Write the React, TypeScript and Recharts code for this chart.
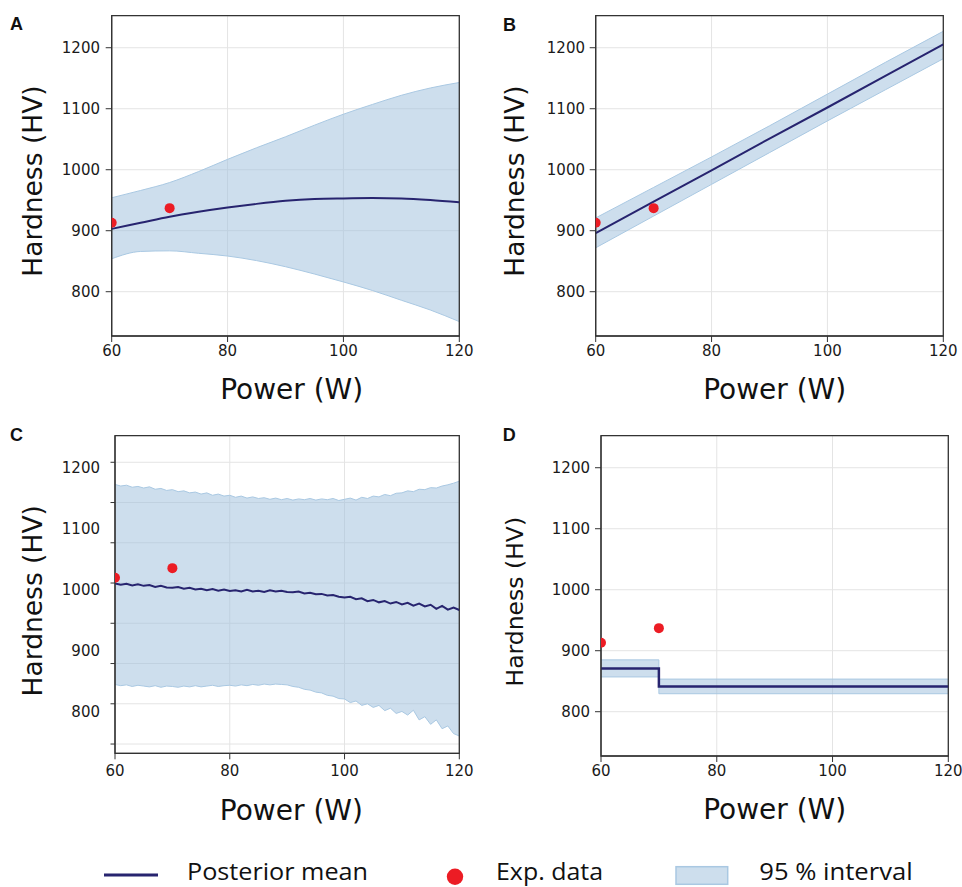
import React from 'react';
import {
  ComposedChart,
  Area,
  Line,
  Scatter,
  XAxis,
  YAxis,
  CartesianGrid,
  ReferenceArea } from
'recharts';

const FONT = '"DejaVu Sans", Verdana, sans-serif';
const NAVY = '#27246f';
const RED = '#ec1c24';
const BAND_FILL = '#9fc0dd';
const BAND_EDGE = '#a9c8e2';
const GRID = '#e4e4e4';
const SPINE = '#333333';

const xTicks = [60, 80, 100, 120];
const hvTicks = [800, 900, 1000, 1100, 1200];
const cGridTicks = [500, 600, 700, 800, 900, 1000, 1100, 1200];

// experimental points (same in every panel)
const EXP_POWER = [60, 70];
const EXP_HARDNESS = [913, 937];

// A: smooth GP-like fit
const A_POWER = [60, 65, 70, 75, 80, 85, 90, 95, 100, 105, 110, 115, 120];
const A_MEAN = [903, 913, 923, 931, 938, 944, 949, 952, 953, 953.5, 953, 950.5, 946.5];
const A_UPPER = [954, 966, 979, 997, 1017, 1036, 1054, 1073, 1091, 1107, 1122, 1134, 1143];
const A_LOWER = [854, 866, 867, 863, 858.5, 851, 841, 829, 816, 802, 786, 770, 751];

// B: linear fit
const B_POWER = [60, 70, 80, 90, 100, 110, 120];
const B_MEAN = [896, 947.5, 999, 1051, 1102, 1154, 1205.5];
const B_UPPER = [921, 971, 1021, 1072, 1124, 1176, 1227];
const B_LOWER = [872, 924, 976, 1028, 1080, 1131, 1182];

// C: noisy sampled posterior
const C_POWER = [
60, 61, 62, 63, 64, 65, 66, 67, 68, 69, 70, 71, 72, 73, 74, 75, 76, 77, 78, 79,
80, 81, 82, 83, 84, 85, 86, 87, 88, 89, 90, 91, 92, 93, 94, 95, 96, 97, 98, 99,
100, 101, 102, 103, 104, 105, 106, 107, 108, 109, 110, 111, 112, 113, 114, 115, 116, 117, 118, 119, 120];
const C_MEAN = [
899, 896, 898, 894, 897, 893, 895, 890, 893, 889, 888, 890, 886, 888, 884, 886, 882, 885, 881, 884,
880, 882, 879, 883, 879, 881, 878, 882, 879, 881, 878, 877, 879, 874, 876, 872, 873, 869, 870, 866,
864, 866, 860, 862, 855, 858, 852, 855, 849, 853, 847, 851, 844, 849, 842, 846, 836, 843, 834, 839, 833];
const C_UPPER = [
1145, 1141, 1143, 1138, 1140, 1136, 1139, 1133, 1135, 1130, 1132, 1127, 1129, 1124, 1126, 1121, 1124, 1118, 1121, 1116,
1118, 1113, 1116, 1111, 1114, 1110, 1112, 1108, 1111, 1107, 1110, 1106, 1109, 1107, 1110, 1106, 1109, 1107, 1110, 1105,
1108, 1111, 1106, 1113, 1110, 1116, 1114, 1120, 1117, 1123, 1124, 1129, 1127, 1133, 1132, 1137, 1136, 1141, 1144, 1148, 1153];
const C_LOWER = [
648, 645, 647, 643, 646, 644, 642, 645, 641, 644, 643, 641, 644, 642, 645, 642, 644, 646, 643, 645,
646, 644, 647, 645, 648, 646, 649, 647, 649, 648, 647, 643, 641, 636, 634, 629, 627, 621, 619, 613,
612, 603, 607, 596, 600, 591, 596, 583, 589, 576, 581, 572, 584, 560, 568, 549, 560, 538, 545, 526, 520];

// D: step model
const D_POWER = [60, 70, 120];
const D_MEAN = [871, 841.5, 841.5];
const D_UPPER = [885, 853.5, 853.5];
const D_LOWER = [857, 829.5, 829.5];

const rowsOf = (power: number[], mean: number[], lower: number[], upper: number[]) =>
power.map((p, i) => ({ power: p, mean: mean[i], band: [lower[i], upper[i]] }));

const expRows = EXP_POWER.map((p, i) => ({ power: p, hardness: EXP_HARDNESS[i] }));

const AxisTitle = ({ tx, ty, size, vertical, title }: any) =>
<text
  x={tx}
  y={ty}
  fontSize={size}
  fontFamily={FONT}
  fill="#111"
  textAnchor="middle"
  transform={vertical ? `rotate(-90 ${tx} ${ty})` : undefined}>
    {title}
  </text>;


const tickStyle = { fontSize: 15, fontFamily: FONT, fill: '#1a1a1a' };
const noLabel = () => <g />;

function Panel(props: any) {
  const {
    x, y, w, h, rows, curve, meanWidth,
    plotLeft, plotRight, plotTop, plotBottom,
    yDomain, gridTicks, yTickMargin, xTickMargin,
    yTitle, xTitle, labelAxis
  } = props;
  const hvWidth = labelAxis ? plotLeft - labelAxis.width : plotLeft;
  return (
    <div style={{ position: 'absolute', left: x, top: y }}>
      <ComposedChart
        width={w}
        height={h}
        data={rows}
        margin={{ top: plotTop, right: w - plotRight, bottom: 0, left: 0 }}>
        
        <CartesianGrid stroke={GRID} />
        <XAxis
          dataKey="power"
          type="number"
          domain={[60, 120]}
          ticks={xTicks}
          allowDataOverflow
          height={h - plotBottom}
          tickSize={6}
          tickMargin={xTickMargin}
          tick={tickStyle}
          stroke={SPINE}
          label={<AxisTitle tx={xTitle.x} ty={xTitle.y} size={28} title="Power (W)" />} />
        
        <YAxis
          type="number"
          domain={yDomain}
          ticks={gridTicks}
          allowDataOverflow
          width={hvWidth}
          tickSize={labelAxis ? 4.5 : 6}
          tickMargin={yTickMargin}
          tick={labelAxis ? noLabel : tickStyle}
          stroke={SPINE}
          label={
          <AxisTitle tx={yTitle.x} ty={yTitle.y} size={yTitle.size} vertical title="Hardness (HV)" />
          } />
        
        {labelAxis &&
        <YAxis
          yAxisId="lab"
          type="number"
          domain={labelAxis.domain}
          ticks={hvTicks}
          allowDataOverflow
          width={labelAxis.width}
          tickSize={0}
          tickMargin={5}
          tickLine={false}
          axisLine={false}
          tick={tickStyle} />
        }
        <Area
          dataKey="band"
          type={curve}
          fill={BAND_FILL}
          fillOpacity={0.52}
          stroke={BAND_EDGE}
          strokeWidth={1}
          dot={false}
          activeDot={false}
          isAnimationActive={false} />
        
        <Line
          dataKey="mean"
          type={curve}
          stroke={NAVY}
          strokeWidth={meanWidth}
          dot={false}
          activeDot={false}
          isAnimationActive={false} />
        
        <Scatter
          data={expRows}
          dataKey="hardness"
          fill={RED}
          shape={(p: any) => <circle cx={p.cx} cy={p.cy} r={5} fill={RED} />}
          isAnimationActive={false} />
        
        <ReferenceArea
          x1={60}
          x2={120}
          y1={yDomain[0]}
          y2={yDomain[1]}
          fill="none"
          stroke={SPINE}
          strokeWidth={1.3} />
        
      </ComposedChart>
    </div>);

}

const HV_DOMAIN = [727.4, 1252.5];

export default function App() {
  return (
    <div style={{ position: 'absolute', left: 0, top: 0, width: 962, height: 887, background: '#fff', fontFamily: FONT }}>
      <Panel
        x={0} y={0} w={480} h={420}
        rows={rowsOf(A_POWER, A_MEAN, A_LOWER, A_UPPER)}
        curve="monotone" meanWidth={2}
        plotLeft={111.7} plotRight={459.3} plotTop={15.7} plotBottom={336}
        yDomain={HV_DOMAIN} gridTicks={hvTicks} yTickMargin={5.7} xTickMargin={3.5}
        yTitle={{ x: 41.5, y: 181, size: 26.5 }} xTitle={{ x: 291.7, y: 399 }} />
      
      <Panel
        x={480} y={0} w={482} h={420}
        rows={rowsOf(B_POWER, B_MEAN, B_LOWER, B_UPPER)}
        curve="linear" meanWidth={2}
        plotLeft={115.7} plotRight={463.3} plotTop={15.7} plotBottom={336}
        yDomain={HV_DOMAIN} gridTicks={hvTicks} yTickMargin={4.7} xTickMargin={3.5}
        yTitle={{ x: 44.3, y: 181, size: 26.5 }} xTitle={{ x: 294.7, y: 399 }} />
      
      <Panel
        x={0} y={420} w={480} h={420}
        rows={rowsOf(C_POWER, C_MEAN, C_LOWER, C_UPPER)}
        curve="linear" meanWidth={2}
        plotLeft={115} plotRight={459.3} plotTop={15.7} plotBottom={333.3}
        yDomain={[477, 1266]} gridTicks={cGridTicks} yTickMargin={0} xTickMargin={6}
        labelAxis={{ width: 105, domain: [731.8, 1252.5] }}
        yTitle={{ x: 41.7, y: 180.8, size: 26.5 }} xTitle={{ x: 291.4, y: 400.3 }} />
      
      <Panel
        x={480} y={420} w={482} h={420}
        rows={rowsOf(D_POWER, D_MEAN, D_LOWER, D_UPPER)}
        curve="stepAfter" meanWidth={2.5}
        plotLeft={121} plotRight={468.3} plotTop={15.7} plotBottom={336}
        yDomain={HV_DOMAIN} gridTicks={hvTicks} yTickMargin={5} xTickMargin={3.2}
        yTitle={{ x: 43.3, y: 181.7, size: 23.5 }} xTitle={{ x: 294.7, y: 399 }} />
      
      <svg width={962} height={887} style={{ position: 'absolute', left: 0, top: 0, pointerEvents: 'none' }}>
        <g fontFamily='"Liberation Sans", Arial, sans-serif' fontWeight="bold" fontSize={18} fill="#111">
          <text x={10} y={30}>A</text>
          <text x={503} y={30.5}>B</text>
          <text x={10} y={440.5}>C</text>
          <text x={502.7} y={440.7}>D</text>
        </g>
        <g fontFamily='"Open Sans", sans-serif' fontSize={24} fill="#111">
          <line x1={104} y1={875} x2={158} y2={875} stroke={NAVY} strokeWidth={3} />
          <text x={187} y={880} textLength={181} lengthAdjust="spacingAndGlyphs">Posterior mean</text>
          <circle cx={455} cy={876.7} r={8.2} fill={RED} />
          <text x={496} y={880} textLength={107} lengthAdjust="spacingAndGlyphs">Exp. data</text>
          <rect x={676} y={866.7} width={51.7} height={17.6} fill={BAND_FILL} fillOpacity={0.52} stroke={BAND_EDGE} strokeWidth={1.5} />
          <text x={759.3} y={880} textLength={153.4} lengthAdjust="spacingAndGlyphs">95 % interval</text>
        </g>
      </svg>
    </div>);

}
